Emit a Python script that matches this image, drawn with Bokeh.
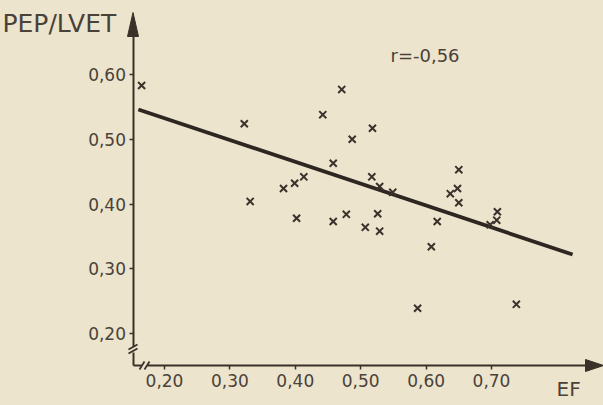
from bokeh.plotting import figure
from bokeh.models import Range1d, LinearAxis, FixedTicker
from bokeh.embed import file_html
from bokeh.resources import INLINE
from bokeh.core.properties import value

# ---- data ----
ef = [0.165, 0.322, 0.331, 0.382, 0.399, 0.413, 0.402, 0.442, 0.471, 0.487,
      0.458, 0.458, 0.478, 0.518, 0.517, 0.529, 0.549, 0.526, 0.507, 0.529,
      0.617, 0.608, 0.587, 0.650, 0.648, 0.637, 0.650, 0.709, 0.708, 0.698,
      0.738]
pep_lvet = [0.583, 0.524, 0.404, 0.424, 0.432, 0.442, 0.378, 0.538, 0.577, 0.500,
            0.463, 0.373, 0.384, 0.517, 0.442, 0.427, 0.418, 0.385, 0.364, 0.358,
            0.373, 0.334, 0.239, 0.453, 0.424, 0.416, 0.402, 0.388, 0.375, 0.368,
            0.245]
fit_ef = [0.160, 0.824]
fit_pep_lvet = [0.546, 0.322]
x_ticks = [0.2, 0.3, 0.4, 0.5, 0.6, 0.7]
x_tick_labels = ["0,20", "0,30", "0,40", "0,50", "0,60", "0,70"]
y_ticks = [0.2, 0.3, 0.4, 0.5, 0.6]
y_tick_labels = ["0,20", "0,30", "0,40", "0,50", "0,60"]
r_text = "r=-0,56"

# ---- page <-> data calibration ----
def vx(px):
    return 0.2 + (px - 164) / 654.0

def vy(py):
    return 0.6 - (py - 74) / 647.5

BG = "#ece4cd"
INK = "#3a3129"
TXT = "#4a4138"
FONT = "DejaVu Sans"

W, H = 603, 405
p = figure(width=W, height=H, output_backend="svg", toolbar_location=None,
           x_range=Range1d(vx(0), vx(W)), y_range=Range1d(vy(H), vy(0)),
           x_axis_type=None, y_axis_type=None, min_border=0,
           outline_line_color=None, background_fill_color=BG,
           border_fill_color=BG)

x0 = vx(132.5)   # position of y axis
y0 = vy(365)     # position of x axis

xa = LinearAxis(fixed_location=y0, bounds=(x0, vx(592)),
                ticker=FixedTicker(ticks=x_ticks),
                major_label_overrides={t: l for t, l in zip(x_ticks, x_tick_labels)})
ya = LinearAxis(fixed_location=x0, bounds=(y0, vy(25)),
                ticker=FixedTicker(ticks=y_ticks),
                major_label_overrides={t: l for t, l in zip(y_ticks, y_tick_labels)})
for ax in (xa, ya):
    ax.axis_line_color = INK
    ax.axis_line_width = 2
    ax.major_tick_line_color = INK
    ax.major_tick_line_width = 1.5
    ax.major_tick_in = 0
    ax.major_tick_out = 4
    ax.minor_tick_line_color = None
    ax.major_label_text_font = FONT
    ax.major_label_text_font_size = "17px"
    ax.major_label_text_color = TXT
xa.major_label_standoff = 4
ya.major_label_standoff = 3
p.add_layout(xa, "below")
p.add_layout(ya, "left")

# arrow heads
p.patch([x0, vx(127), vx(138)], [vy(12), vy(36), vy(36)], color=INK, level="annotation")
p.patch([vx(603), vx(585), vx(585)], [y0, vy(359), vy(371)], color=INK, level="annotation")

# axis breaks
p.quad(left=[vx(129)], right=[vx(136)], bottom=[vy(352)], top=[vy(346)],
       color=BG, line_color=None, level="annotation")
p.segment(x0=[vx(128), vx(128)], y0=[vy(349), vy(353)],
          x1=[vx(137), vx(137)], y1=[vy(344), vy(348)],
          line_color=INK, line_width=1.8, level="annotation")
p.quad(left=[vx(141)], right=[vx(147)], bottom=[vy(367)], top=[vy(363)],
       color=BG, line_color=None, level="annotation")
p.segment(x0=[vx(139), vx(144)], y0=[vy(369), vy(369)],
          x1=[vx(144), vx(149)], y1=[vy(361), vy(361)],
          line_color=INK, line_width=1.8, level="annotation")

# regression line and points
p.line(fit_ef, fit_pep_lvet, line_color="#2e2721", line_width=3.8)
p.scatter(ef, pep_lvet, marker="x", size=10, line_color="#3b332b", line_width=2)

# texts
p.text(x=[vx(2)], y=[vy(23)], text=["PEP/LVET"], text_font=value(FONT),
       text_font_size="25px", text_color=TXT, text_align="left",
       text_baseline="alphabetic")
p.text(x=[vx(390)], y=[vy(55)], text=[r_text], text_font=value(FONT),
       text_font_size="18px", text_color=TXT, text_align="left",
       text_baseline="alphabetic")
p.text(x=[vx(556)], y=[vy(388)], text=["EF"], text_font=value(FONT),
       text_font_size="20px", text_color=TXT, text_align="left",
       text_baseline="alphabetic")

html = file_html(p, INLINE)
html = html.replace("<head>", "<head><style>body{background:%s;}</style>" % BG, 1)
open("out.html", "w").write(html)
